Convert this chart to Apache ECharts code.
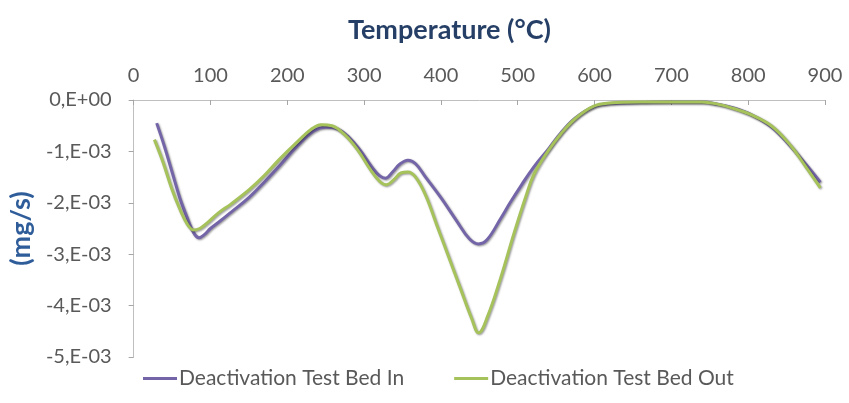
<!DOCTYPE html>
<html>
<head>
<meta charset="utf-8">
<script src="https://cdn.jsdelivr.net/npm/echarts@6/dist/echarts.min.js"></script>
<style>
  html, body { margin: 0; padding: 0; background: #ffffff; }
  #chart { width: 849px; height: 403px; }
</style>
</head>
<body>
<div id="chart"></div>
<script>
// DTG curves of the deactivation test bed (mass loss rate vs. temperature)
const tempIn = [30, 40, 50, 60, 70, 78, 85, 92, 100, 113, 127, 150, 170, 190, 214, 235, 250, 265, 280, 295, 310, 320, 328, 337, 347, 357, 367, 380, 400, 420, 437, 449, 460, 478, 490, 505, 521, 540, 556, 575, 599, 620, 660, 700, 740, 760, 780, 803, 830, 855, 875, 894];
const rateIn = [-0.00045, -0.0009, -0.0014, -0.0019, -0.0023, -0.00258, -0.00268, -0.00262, -0.0025, -0.00235, -0.00218, -0.0019, -0.0016, -0.00128, -0.00088, -0.0006, -0.00053, -0.00056, -0.00072, -0.00098, -0.0013, -0.00147, -0.00152, -0.0014, -0.00124, -0.00117, -0.00124, -0.0015, -0.0019, -0.00234, -0.0027, -0.0028, -0.00272, -0.0023, -0.002, -0.00165, -0.0013, -0.00095, -0.00064, -0.00035, -0.00013, -0.00007, -0.00005, -0.00004, -0.00004, -0.00008, -0.00015, -0.00028, -0.00052, -0.0009, -0.00125, -0.0016];

const tempOut = [27, 38, 49, 60, 70, 78, 86, 95, 110, 127, 150, 170, 190, 214, 232, 244, 258, 275, 292, 308, 320, 329, 338, 348, 357, 367, 380, 395, 410, 425, 440, 449, 461, 478, 495, 510, 521, 540, 556, 575, 599, 620, 660, 700, 740, 760, 780, 803, 830, 855, 875, 894];
const rateOut = [-0.00077, -0.0012, -0.0017, -0.00212, -0.00242, -0.00253, -0.0025, -0.0024, -0.0022, -0.00202, -0.00175, -0.00147, -0.00115, -0.0008, -0.00056, -0.00048, -0.0005, -0.00068, -0.00098, -0.00135, -0.00158, -0.00165, -0.00156, -0.00142, -0.0014, -0.0015, -0.00185, -0.00245, -0.00305, -0.00365, -0.00425, -0.00453, -0.0042, -0.00345, -0.0026, -0.0019, -0.00145, -0.00098, -0.00066, -0.00036, -0.00012, -0.00006, -0.00004, -0.00004, -0.00004, -0.00008, -0.00016, -0.00028, -0.0005, -0.00088, -0.0013, -0.00171];

const seriesNames = ['Deactivation Test Bed In', 'Deactivation Test Bed Out'];
const seriesColors = ['#7465a8', '#a6c25a'];

const bodyFont = 'Lato, "Open Sans", "Liberation Sans", sans-serif';

// Excel-style scientific label: 0,E+00 / -1,E-03
function sciLabel(v) {
  if (Math.abs(v) < 1e-12) return '0,E+00';
  const e = Math.floor(Math.log10(Math.abs(v)) + 1e-9);
  const m = Math.round(v / Math.pow(10, e));
  const es = (e < 0 ? '-' : '+') + String(Math.abs(e)).padStart(2, '0');
  return m + ',E' + es;
}

function pairs(xs, ys) { return xs.map((x, i) => [x, ys[i]]); }

function lineSeries(name, color, data) {
  return {
    name: name,
    type: 'line',
    smooth: 0.4,
    showSymbol: false,
    data: data,
    color: color,
    lineStyle: { width: 3, color: color, shadowColor: 'rgba(0,0,0,0.4)', shadowBlur: 2, shadowOffsetX: 1, shadowOffsetY: 1 }
  };
}

const chart = echarts.init(document.getElementById('chart'));
chart.setOption({
  animation: false,
  backgroundColor: '#ffffff',
  title: {
    text: 'Temperature (°C)',
    left: 343,
    top: 12,
    textStyle: { fontFamily: bodyFont, fontSize: 27, fontWeight: 'bold', color: '#263f66' }
  },
  grid: { left: 132, right: 24, top: 100, bottom: 46 },
  legend: {
    bottom: 9,
    left: 138,
    itemGap: 50,
    itemWidth: 34,
    itemHeight: 3,
    icon: 'rect',
    textStyle: { fontFamily: bodyFont, fontSize: 21, color: '#595959', padding: [0, 0, 0, -3] },
    data: seriesNames
  },
  xAxis: {
    type: 'value',
    position: 'top',
    min: 0,
    max: 900,
    interval: 100,
    axisLine: { show: true, lineStyle: { color: '#bfbfbf', width: 1 } },
    axisTick: { show: true, inside: true, length: 5, lineStyle: { color: '#a6a6a6' } },
    axisLabel: { margin: 14, fontFamily: bodyFont, fontSize: 20, color: '#595959' },
    splitLine: { show: false }
  },
  yAxis: {
    type: 'value',
    min: -0.005,
    max: 0,
    interval: 0.001,
    name: '(mg/s)',
    nameLocation: 'middle',
    nameGap: 95,
    nameRotate: 90,
    nameTextStyle: { fontFamily: bodyFont, fontSize: 27, fontWeight: 'bold', color: '#2f5d9a' },
    axisLine: { show: true, lineStyle: { color: '#bfbfbf', width: 1 } },
    axisTick: { show: true, length: 5, lineStyle: { color: '#a6a6a6' } },
    axisLabel: { margin: 22, fontFamily: bodyFont, fontSize: 20, color: '#595959', formatter: sciLabel },
    splitLine: { show: false }
  },
  series: [
    lineSeries(seriesNames[0], seriesColors[0], pairs(tempIn, rateIn)),
    lineSeries(seriesNames[1], seriesColors[1], pairs(tempOut, rateOut))
  ]
});
</script>
</body>
</html>
